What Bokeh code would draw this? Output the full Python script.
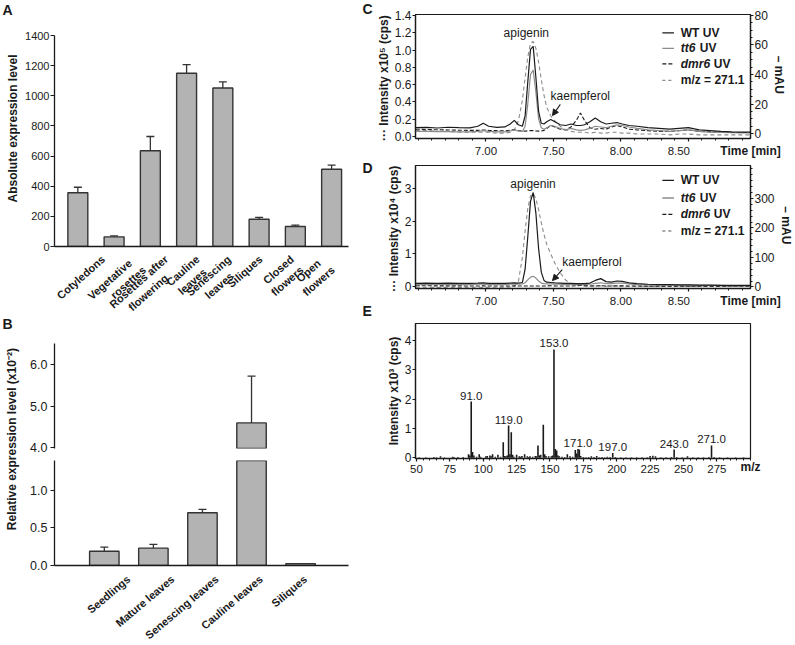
import math
from bokeh.plotting import figure
from bokeh.layouts import row, column
from bokeh.models import (Range1d, LinearAxis, FixedTicker, NumeralTickFormatter,
                          Whisker, TeeHead, ColumnDataSource, Arrow, NormalHead)
from bokeh.core.properties import value
from bokeh.embed import file_html
from bokeh.resources import INLINE

FONT = "Liberation Sans"
BAR_FILL = "#b3b3b3"
BAR_EDGE = "#333333"
INK = "#1a1a1a"
GREY = "#8c8c8c"
NB = "\u00a0"

# ---------------- data ----------------
# Panel A: absolute expression level
tissues_a = ["Cotyledons", "Vegetative" + NB * 2 + "\nrosettes", "Rosettes after\nflowering" + NB * 4,
             "Cauline\nleaves" + NB, "Senescing\nleaves" + NB * 3, "Siliques", "Closed\nflowers",
             "Open" + NB * 2 + "\nflowers"]
abs_level = [357, 64, 635, 1150, 1052, 181, 133, 513]
abs_err = [36, 7, 95, 57, 40, 12, 9, 27]

# Panel B: relative expression level (x10^-2)
tissues_b = ["Seedlings", "Mature leaves", "Senescing leaves", "Cauline leaves", "Siliques"]
rel_level = [0.19, 0.23, 0.70, 4.60, 0.025]
rel_err = [0.055, 0.05, 0.045, 1.12, 0.0]

# Panels C, D: chromatograms (time in min)
time_min = [6.48, 6.56, 6.64, 6.72, 6.80, 6.88, 6.94, 6.98, 7.02, 7.08,
            7.14, 7.18, 7.21, 7.24, 7.27, 7.29, 7.31, 7.33, 7.35, 7.37,
            7.39, 7.41, 7.43, 7.45, 7.48, 7.51, 7.55, 7.59, 7.63, 7.67,
            7.70, 7.73, 7.77, 7.81, 7.85, 7.89, 7.93, 7.97, 8.01, 8.06,
            8.12, 8.20, 8.28, 8.36, 8.43, 8.50, 8.58, 8.66, 8.74, 8.82,
            8.90, 8.96]
# C: UV traces in mAU, MS trace in x10^5 cps
c_wt_uv = [4.0, 4.2, 3.8, 4.3, 4.0, 3.9, 5.0, 7.0, 5.0, 4.2,
           4.5, 6.5, 9.0, 6.0, 5.0, 12.0, 35.0, 57.0, 59.0, 38.0,
           15.0, 7.0, 6.5, 8.0, 9.5, 8.0, 6.0, 5.5, 6.5, 5.5,
           5.5, 6.0, 8.0, 10.5, 8.0, 6.5, 7.0, 7.5, 6.5, 5.5,
           5.0, 4.0, 3.5, 3.0, 3.5, 4.0, 2.5, 2.0, 1.5, 1.2,
           1.0, 1.0]
c_tt6_uv = [1.5, 1.5, 1.3, 1.4, 1.2, 1.2, 1.5, 2.0, 1.5, 1.2,
            1.2, 1.8, 2.5, 1.8, 1.5, 5.0, 20.0, 40.0, 43.0, 28.0,
            10.0, 4.0, 3.0, 4.0, 5.5, 5.0, 3.5, 2.5, 3.5, 2.5,
            2.2, 2.5, 3.5, 5.0, 4.5, 4.0, 5.0, 6.0, 5.5, 4.5,
            3.5, 2.5, 2.0, 1.5, 2.0, 2.5, 1.5, 1.0, 0.8, 0.6,
            0.5, 0.5]
c_dmr6_uv = [3.0, 2.8, 2.6, 2.5, 2.3, 2.2, 2.2, 2.5, 2.2, 2.0,
             1.9, 2.2, 2.8, 2.0, 1.8, 1.7, 1.8, 2.0, 2.0, 1.8,
             1.7, 1.8, 2.2, 3.5, 5.5, 4.5, 3.0, 2.5, 4.5, 9.0,
             14.0, 9.0, 4.0, 3.0, 3.5, 3.0, 4.5, 5.5, 4.5, 3.0,
             2.5, 2.0, 1.5, 1.5, 2.0, 2.5, 1.5, 1.2, 1.0, 0.8,
             0.8, 0.8]
c_mz271 = [0.07, 0.07, 0.06, 0.06, 0.05, 0.05, 0.05, 0.05, 0.05, 0.04,
           0.04, 0.05, 0.08, 0.18, 0.42, 0.68, 0.92, 1.08, 1.10, 1.02,
           0.86, 0.66, 0.48, 0.34, 0.24, 0.18, 0.12, 0.08, 0.06, 0.05,
           0.05, 0.05, 0.04, 0.05, 0.04, 0.04, 0.05, 0.05, 0.04, 0.04,
           0.03, 0.03, 0.03, 0.02, 0.03, 0.03, 0.02, 0.02, 0.02, 0.02,
           0.02, 0.02]
# D: UV traces in mAU, MS trace in x10^4 cps
d_wt_uv = [12, 13, 12, 13, 12, 12, 13, 14, 12, 12,
           12, 13, 14, 13, 15, 60, 170, 290, 320, 250,
           130, 50, 22, 16, 15, 14, 13, 12, 12, 11,
           11, 11, 13, 22, 28, 18, 16, 20, 19, 14,
           11, 9, 8, 8, 7, 7, 6, 6, 5, 5,
           5, 5]
d_tt6_uv = [8, 8, 9, 8, 8, 8, 9, 9, 8, 8,
            8, 9, 9, 9, 10, 14, 24, 33, 36, 30,
            20, 13, 11, 10, 10, 9, 9, 8, 8, 8,
            8, 8, 9, 12, 14, 11, 11, 13, 13, 10,
            8, 7, 6, 6, 6, 6, 5, 5, 5, 4,
            4, 4]
d_dmr6_uv = [4, 4, 3.5, 3.5, 3.5, 3, 3, 3.5, 3, 3,
             3, 3, 3.5, 3, 3, 3, 3, 3, 3, 3,
             3, 3, 3, 3.5, 4, 3.5, 3, 3, 3, 4,
             5, 4, 3, 3, 4, 3, 3, 3.5, 3.5, 3,
             3, 2.5, 2.5, 2.5, 2.5, 2.5, 2, 2, 2, 2,
             2, 2]
d_mz271 = [-0.02, -0.02, -0.03, -0.02, -0.03, -0.02, -0.02, -0.03, -0.02, -0.02,
           -0.02, -0.01, 0.0, 0.15, 0.9, 1.7, 2.4, 2.78, 2.85, 2.7,
           2.35, 1.95, 1.6, 1.3, 1.0, 0.72, 0.42, 0.2, 0.08, 0.04,
           0.03, 0.02, 0.02, 0.02, 0.02, 0.01, 0.02, 0.02, 0.01, 0.01,
           0.01, 0.01, 0.0, 0.0, 0.01, 0.0, 0.0, 0.0, 0.0, 0.0,
           0.0, 0.0]
legend_names = ["WT  UV", "tt6", "dmr6", "m/z = 271.1"]

# Panel E: MS/MS spectrum (m/z, intensity x10^3 cps)
spec_mz = [52, 57, 63, 65, 68, 71, 77, 78, 81, 85, 89, 90, 91, 92, 93, 95, 97, 98, 102, 103,
           105, 106, 107, 109, 111, 113, 115, 116, 117, 118, 119, 120, 121, 122, 123, 125, 127, 128, 129, 131,
           133, 134, 135, 137, 139, 140, 141, 142, 143, 145, 146, 147, 149, 151, 152, 153, 154, 155, 156, 157,
           159, 161, 163, 165, 167, 169, 170, 171, 172, 173, 175, 177, 179, 181, 183, 185, 187, 189, 191, 193,
           195, 197, 199, 203, 207, 211, 215, 219, 223, 225, 227, 229, 233, 237, 241, 243, 245, 249, 253, 257,
           261, 265, 269, 271, 273, 277, 283, 289, 295]
spec_int = [0.02, 0.02, 0.03, 0.02, 0.05, 0.02, 0.04, 0.03, 0.03, 0.03, 0.12, 0.08, 1.92, 0.20, 0.08, 0.04, 0.12, 0.04, 0.05, 0.06,
            0.08, 0.05, 0.12, 0.04, 0.10, 0.04, 0.53, 0.06, 0.05, 0.08, 1.10, 0.12, 0.87, 0.10, 0.04, 0.10, 0.05, 0.04, 0.06, 0.12,
            0.05, 0.03, 0.05, 0.04, 0.06, 0.05, 0.42, 0.08, 0.10, 1.13, 0.12, 0.06, 0.05, 0.05, 0.08, 3.70, 0.30, 0.25, 0.08, 0.05,
            0.04, 0.03, 0.12, 0.05, 0.04, 0.27, 0.15, 0.30, 0.28, 0.06, 0.03, 0.02, 0.03, 0.05, 0.03, 0.06, 0.02, 0.03, 0.02, 0.04,
            0.03, 0.16, 0.03, 0.02, 0.02, 0.02, 0.02, 0.02, 0.02, 0.06, 0.07, 0.05, 0.02, 0.02, 0.03, 0.28, 0.03, 0.02, 0.05, 0.02,
            0.02, 0.02, 0.03, 0.42, 0.03, 0.02, 0.02, 0.02, 0.02]
labelled_mz = [91, 119, 153, 171, 197, 243, 271]


# ---------------- helpers ----------------
def base_fig(**kw):
    p = figure(output_backend="svg", toolbar_location=None, **kw)
    p.xgrid.visible = False
    p.ygrid.visible = False
    p.background_fill_color = "white"
    p.border_fill_color = "white"
    return p


def style_axis(ax, size="11px", tick_out=4, standoff=2, minor_out=0):
    ax.axis_line_color = INK
    ax.axis_line_width = 1.3
    ax.major_tick_line_color = INK
    ax.major_tick_line_width = 1.2
    ax.minor_tick_line_color = INK
    ax.minor_tick_line_width = 1.0
    ax.major_tick_in = 0
    ax.major_tick_out = tick_out
    ax.minor_tick_in = 0
    ax.minor_tick_out = minor_out
    ax.major_label_text_font = FONT
    ax.major_label_text_font_size = size
    ax.major_label_text_color = INK
    ax.major_label_standoff = standoff
    ax.axis_label_text_font = FONT
    ax.axis_label_text_font_style = "bold"
    ax.axis_label_text_font_size = "12px"
    ax.axis_label_text_color = INK
    ax.axis_label_standoff = 1


def bare_xaxis(ax):
    """Axis line only; category labels are drawn in the strip below."""
    style_axis(ax, "11px", tick_out=0, standoff=0)
    ax.ticker = FixedTicker(ticks=[])


def end_label(ax, text, pad_n, standoff):
    """Axis title placed at the right end of a bottom axis, on the tick-label line."""
    ax.axis_label = text
    done = False
    for v in ("end", "right"):
        try:
            ax.axis_label_align = v
            done = True
            break
        except Exception:
            pass
    if not done:
        ax.axis_label = NB * pad_n + text
    ax.axis_label_standoff = standoff


def bars(p, xs, tops, errs, width, lo_lim, hi_lim):
    keep_b = [i for i in range(len(xs)) if tops[i] > lo_lim]
    p.vbar(x=[xs[i] for i in keep_b], top=[tops[i] for i in keep_b], bottom=0, width=width,
           fill_color=BAR_FILL, line_color=BAR_EDGE, line_width=1.4)
    keep = [i for i, e in enumerate(errs) if e > 0 and tops[i] + errs[i] > lo_lim and tops[i] < hi_lim]
    if keep:
        src = ColumnDataSource(dict(x=[xs[i] for i in keep], lo=[tops[i] for i in keep],
                                    hi=[tops[i] + errs[i] for i in keep]))
        p.add_layout(Whisker(source=src, base="x", lower="lo", upper="hi", line_color=BAR_EDGE, line_width=1.3,
                             upper_head=TeeHead(size=8, line_color=BAR_EDGE, line_width=1.3),
                             lower_head=None))


def strip(width, height, x_range=None):
    p = base_fig(width=width, height=height, x_range=x_range or Range1d(0, width), y_range=Range1d(0, height),
                 x_axis_location=None, y_axis_location=None, min_border=0)
    p.outline_line_color = None
    return p


def strip_text(p, x, y, txt, size, angle=0.0, align="left", baseline="top"):
    p.text(x=[x], y=[y], text=[txt], angle=angle, text_align=align, text_baseline=baseline,
           text_font=value(FONT), text_font_style="bold", text_font_size=size, text_color=INK)


def category_strip(width, height, xr, xs, labels, angle, dx, dy, line_height):
    p = strip(width, height, xr)
    p.text(x=xs, y=[height - dy] * len(xs), text=labels, angle=angle, x_offset=dx,
           text_align="right", text_baseline="top", text_font=value(FONT), text_font_style="bold",
           text_font_size="11px", text_color=INK, text_line_height=line_height)
    return p


# ---------------- left strip: panel letters A, B and y titles ----------------
sL = strip(20, 644)
strip_text(sL, 2, 643, "A", "14px")
strip_text(sL, 12.5, 516, "Absolute expression level", "12px", angle=math.pi / 2, align="center", baseline="middle")
strip_text(sL, 2, 329, "B", "14px")
strip_text(sL, 11.5, 207, "Relative expression level  (x10\u207b\u00b2)", "12px", angle=math.pi / 2,
           align="center", baseline="middle")

# ---------------- Panel A ----------------
xa = list(range(len(tissues_a)))
pA = base_fig(width=341, height=252, x_range=Range1d(-0.644, 7.466), y_range=Range1d(0, 1400),
              min_border_left=32, min_border_right=13, min_border_top=35, min_border_bottom=6)
pA.outline_line_color = None
bars(pA, xa, abs_level, abs_err, 0.55, 0, 1400)
bare_xaxis(pA.xaxis[0])
ay = pA.yaxis[0]
style_axis(ay, "11px", tick_out=4, standoff=1)
ay.ticker = FixedTicker(ticks=[0, 200, 400, 600, 800, 1000, 1200, 1400])
# same scale as panel A (36.5 px per category), frame widened to the whole strip
labA = category_strip(341, 82, Range1d(-1.5207, 7.8222), xa, tissues_a, 0.72, -3, 0.5, 1.2)

# ---------------- Panel B (broken axis: two stacked plots) ----------------
xb = list(range(len(tissues_b)))
xrB = Range1d(-1.015, 4.976)
pB1 = base_fig(width=341, height=121, x_range=xrB, y_range=Range1d(3.986, 6.504), x_axis_location=None,
               min_border_left=34, min_border_right=0, min_border_top=9, min_border_bottom=7)
pB2 = base_fig(width=341, height=117, x_range=xrB, y_range=Range1d(0, 1.393),
               min_border_left=34, min_border_right=0, min_border_top=5, min_border_bottom=7)
for p, lo, hi, ticks in ((pB1, 3.986, 6.504, [4.0, 5.0, 6.0]), (pB2, 0, 1.393, [0.0, 0.5, 1.0])):
    p.outline_line_color = None
    bars(p, xb, rel_level, rel_err, 0.6, lo, hi)
    a = p.yaxis[0]
    style_axis(a, "12.5px", tick_out=4, standoff=3)
    a.ticker = FixedTicker(ticks=ticks)
    a.formatter = NumeralTickFormatter(format="0.0")
bare_xaxis(pB2.xaxis[0])
labB = category_strip(341, 72, Range1d(-1.6784, 4.976), xb, tissues_b, 0.70, -4, 0.5, 1.2)


# ---------------- Panels C, D ----------------
def chrom(height, top, bottom, yl, yr, left_ticks, left_fmt, right_ticks, right_minor, sup,
          wt, tt6, dmr6, mz, leg_rows, apig, kaem, arrow):
    p = base_fig(width=422, height=height, x_range=Range1d(6.478, 8.960), y_range=Range1d(*yl),
                 min_border_left=36, min_border_right=41, min_border_top=top, min_border_bottom=bottom)
    p.outline_line_color = INK
    p.outline_line_width = 1.2
    p.extra_y_ranges = {"uv": Range1d(*yr)}
    p.add_layout(LinearAxis(y_range_name="uv"), "right")
    p.line(time_min, mz, line_color=GREY, line_dash="4 3", line_width=1.1)
    p.line(time_min, dmr6, y_range_name="uv", line_color=INK, line_dash="4 2", line_width=1.1)
    p.line(time_min, tt6, y_range_name="uv", line_color=GREY, line_width=1.2)
    p.line(time_min, wt, y_range_name="uv", line_color=INK, line_width=1.2)
    # legend
    styles = [(INK, "solid"), (GREY, "solid"), (INK, "4 2"), (GREY, "3 3")]
    for (col, dash), yy in zip(styles, leg_rows):
        p.line([8.307, 8.393], [yy, yy], line_color=col, line_dash=dash, line_width=1.3)
    tk = dict(text_font=value(FONT), text_font_size="12px", text_baseline="middle", text_color=INK)
    p.text(x=[8.443, 8.443], y=[leg_rows[0], leg_rows[3]], text=[legend_names[0], legend_names[3]],
           text_font_style="bold", **tk)
    p.text(x=[8.443, 8.443], y=[leg_rows[1], leg_rows[2]], text=[legend_names[1], legend_names[2]],
           text_font_style="bold italic", **tk)
    p.text(x=[8.443], y=[leg_rows[1]], text=["UV"], x_offset=19, text_font_style="bold", **tk)
    p.text(x=[8.443], y=[leg_rows[2]], text=["UV"], x_offset=33, text_font_style="bold", **tk)
    # annotations
    p.text(x=[apig[0]], y=[apig[1]], text=["apigenin"], text_align="center", **tk)
    p.text(x=[kaem[0]], y=[kaem[1]], text=["kaempferol"], text_align="left", **tk)
    p.add_layout(Arrow(x_start=arrow[0], y_start=arrow[1], x_end=arrow[2], y_end=arrow[3],
                       line_color=INK, line_width=1.1,
                       end=NormalHead(size=6, fill_color=INK, line_color=INK)))
    # axes
    al = p.yaxis[0]
    style_axis(al, "12px", tick_out=3, standoff=1)
    al.ticker = FixedTicker(ticks=left_ticks)
    al.formatter = NumeralTickFormatter(format=left_fmt)
    al.axis_label = "\u00b7\u00b7\u00b7  Intensity x10" + sup + " (cps)"
    al.axis_label_standoff = 1
    ar = p.yaxis[1]
    style_axis(ar, "12px", tick_out=3, standoff=1, minor_out=2)
    ar.ticker = FixedTicker(ticks=right_ticks, minor_ticks=right_minor)
    ar.axis_label = "\u2013  mAU"
    ar.axis_label_standoff = 1
    axb = p.xaxis[0]
    style_axis(axb, "11.5px", tick_out=3, standoff=3, minor_out=2)
    axb.ticker = FixedTicker(ticks=[7.0, 7.5, 8.0, 8.5], minor_ticks=[6.5 + 0.1 * i for i in range(25)])
    axb.formatter = NumeralTickFormatter(format="0.00")
    axb.major_label_overrides = {8.5: "8.50" + NB * 6}
    end_label(axb, "Time [min]", 86, -16)
    return p


pC = chrom(160, 14, 18, (-0.022, 1.411), (-3.3, 80.6), [0, 0.2, 0.4, 0.6, 0.8, 1.0, 1.2, 1.4], "0.0",
           [0, 20, 40, 60, 80], list(range(0, 81, 5)), "\u2075",
           c_wt_uv, c_tt6_uv, c_dmr6_uv, c_mz271, [1.198, 1.019, 0.840, 0.649],
           (7.299, 1.198), (7.479, 0.467), (7.551, 0.373, 7.493, 0.243))

pD = chrom(150, 5, 21, (-0.06, 3.71), (-5.4, 411.7), [0, 1, 2, 3], "0",
           [0, 100, 200, 300], list(range(0, 401, 20)), "\u2074",
           d_wt_uv, d_tt6_uv, d_dmr6_uv, d_mz271, [3.252, 2.714, 2.210, 1.702],
           (7.349, 3.15), (7.565, 0.75), (7.565, 0.517, 7.493, 0.182))

# ---------------- Panel E ----------------
pE = base_fig(width=422, height=170, x_range=Range1d(49.27, 300.2), y_range=Range1d(-0.024, 4.584),
              min_border_left=36, min_border_right=41, min_border_top=13, min_border_bottom=22)
pE.outline_line_color = INK
pE.outline_line_width = 1.2
pE.segment(x0=spec_mz, y0=[0] * len(spec_mz), x1=spec_mz, y1=spec_int, line_color=INK, line_width=1.6)
lab_int = [spec_int[spec_mz.index(m)] for m in labelled_mz]
pE.text(x=labelled_mz, y=lab_int, text=["%.1f" % m for m in labelled_mz], y_offset=-2,
        text_align="center", text_baseline="bottom", text_font=value(FONT), text_font_size="11.5px",
        text_color=INK)
ey = pE.yaxis[0]
style_axis(ey, "12px", tick_out=3, standoff=1)
ey.ticker = FixedTicker(ticks=[0, 1, 2, 3, 4])
ey.axis_label = "Intensity x10\u00b3 (cps)"
ey.axis_label_standoff = 1
ex = pE.xaxis[0]
style_axis(ex, "11.5px", tick_out=3, standoff=3, minor_out=2)
ex.ticker = FixedTicker(ticks=[50, 75, 100, 125, 150, 175, 200, 225, 250, 275],
                        minor_ticks=list(range(50, 301, 5)))
end_label(ex, "m/z", 95, -16)

# ---------------- right strip: panel letters C, D, E ----------------
sR = strip(12, 480)
strip_text(sR, 1, 480, "C", "14px")
strip_text(sR, 1, 321, "D", "14px")
strip_text(sR, 1, 178, "E", "14px")

layout = row(sL, column(pA, labA, pB1, pB2, labB), sR, column(pC, pD, pE))
open("out.html", "w").write(file_html(layout, INLINE))
